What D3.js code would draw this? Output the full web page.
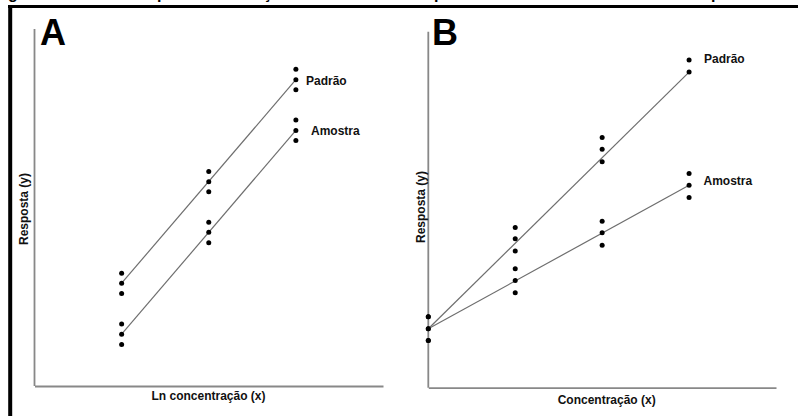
<!DOCTYPE html>
<html>
<head>
<meta charset="utf-8">
<script src="https://cdn.jsdelivr.net/npm/d3@7"></script>
<style>
  html, body { margin: 0; padding: 0; background: #fff; }
  svg { display: block; font-family: "Liberation Sans", Arial, sans-serif; }
</style>
</head>
<body>
<svg id="chart" width="798" height="416"></svg>
<script>
// Panel A: response versus ln(concentration), three replicates per level
const levelsA = [1, 2, 3];
const padraoA = [[31.6, 28.8, 25.9], [60.1, 57.2, 54.4], [88.7, 85.8, 83.0]];
const amostraA = [[17.4, 14.5, 11.6], [45.9, 43.1, 40.1], [74.5, 71.6, 68.8]];

// Panel B: response versus concentration, common blank at zero
const levelsB = [0, 1, 2, 3];
const padraoB = [[19.9, 16.5, 13.2], [44.9, 41.7, 38.3], [70.1, 66.8, 63.3], [91.8, 88.4]];
const amostraB = [[19.9, 16.5, 13.2], [33.3, 30.0, 26.6], [46.6, 43.4, 39.9], [60.0, 56.7, 53.3]];

const seriesNames = ["Padrão", "Amostra"];
const panelLetters = ["A", "B"];
const xTitles = ["Ln concentração (x)", "Concentração (x)"];
const yTitle = "Resposta (y)";
const captionPieces = [["g", 8], ["p", 157], ["ç", 263], ["p", 434], ["p", 711]];

const svg = d3.select("#chart");

// caption line running above the frame (only its lower edge is in view)
svg.selectAll("text.cap").data(captionPieces).join("text")
  .attr("class", "cap")
  .attr("x", d => d[1]).attr("y", -0.6)
  .attr("font-size", 16).attr("font-weight", "bold").attr("fill", "#000")
  .text(d => d[0]);

// frame
svg.append("line").attr("x1", 8).attr("x2", 798).attr("y1", 6.5).attr("y2", 6.5)
  .attr("stroke", "#000").attr("stroke-width", 3);
svg.append("line").attr("x1", 10.2).attr("x2", 10.2).attr("y1", 5).attr("y2", 416)
  .attr("stroke", "#000").attr("stroke-width", 4);

function panel(cfg) {
  const g = svg.append("g");
  const x = d3.scaleLinear().domain([0, 4]).range([cfg.left, cfg.right]);
  const y = d3.scaleLinear().domain([0, 100]).range([cfg.bottom, cfg.bottom - 357]);

  // axes: plain lines without ticks
  const xAxis = d3.axisBottom(x).tickValues([]).tickSizeOuter(0);
  const yAxis = d3.axisLeft(y).tickValues([]).tickSizeOuter(0);
  g.append("g").attr("transform", `translate(0,${cfg.bottom})`).call(xAxis)
    .select(".domain").attr("stroke", "#888").attr("stroke-width", 1.8);
  g.append("g").attr("transform", `translate(${cfg.left},0)`).call(yAxis)
    .select(".domain").attr("stroke", "#888").attr("stroke-width", 1.8)
    .attr("d", `M0,${cfg.bottom}V${cfg.axisTop}`);

  cfg.series.forEach((vals, si) => {
    const lv = cfg.levels;
    const first = d3.median(vals[0]);
    const last = vals[vals.length - 1][1];
    const line = d3.line().x(d => x(d[0])).y(d => y(d[1]));
    g.append("path")
      .attr("d", line([[lv[0], first], [lv[lv.length - 1], last]]))
      .attr("fill", "none").attr("stroke", "#6e6e6e").attr("stroke-width", 1.2);

    const pts = [];
    vals.forEach((reps, i) => reps.forEach(v => pts.push([lv[i], v])));
    g.selectAll(null).data(pts).join("circle")
      .attr("cx", d => x(d[0])).attr("cy", d => y(d[1])).attr("r", 2.5)
      .attr("fill", "#000");

    g.append("text")
      .attr("x", cfg.labelPos[si][0]).attr("y", cfg.labelPos[si][1])
      .attr("font-size", 12).attr("font-weight", "bold").attr("fill", "#111")
      .text(seriesNames[si]);
  });

  g.append("text").attr("x", cfg.letter[0]).attr("y", cfg.letter[1])
    .attr("font-size", 36).attr("font-weight", "bold").attr("fill", "#000")
    .text(cfg.letterText);

  g.append("text")
    .attr("x", cfg.xTitle[0]).attr("y", cfg.xTitle[1])
    .attr("text-anchor", "middle").attr("font-size", 12).attr("font-weight", "bold")
    .attr("fill", "#111").text(cfg.xTitleText);

  g.append("text")
    .attr("transform", `translate(${cfg.yTitle[0]},${cfg.yTitle[1]}) rotate(-90)`)
    .attr("text-anchor", "middle").attr("font-size", 12).attr("font-weight", "bold")
    .attr("fill", "#111").text(yTitle);
}

panel({
  left: 34.5, right: 383, bottom: 386, axisTop: 29,
  levels: levelsA, series: [padraoA, amostraA],
  labelPos: [[306, 85], [311, 135]],
  letter: [40, 45], letterText: panelLetters[0],
  xTitle: [208.5, 400], xTitleText: xTitles[0],
  yTitle: [27.5, 209]
});

panel({
  left: 428.3, right: 776, bottom: 387.7, axisTop: 31.7,
  levels: levelsB, series: [padraoB, amostraB],
  labelPos: [[704, 62.5], [703.5, 185]],
  letter: [432, 45], letterText: panelLetters[1],
  xTitle: [606.7, 404], xTitleText: xTitles[1],
  yTitle: [425, 207]
});
</script>
</body>
</html>
